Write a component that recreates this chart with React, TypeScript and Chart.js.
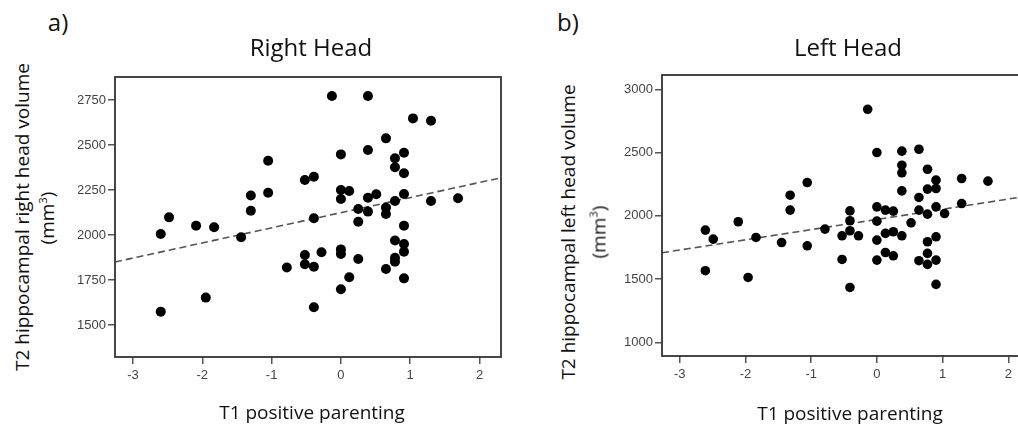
import React, { useEffect, useRef } from "react";
import { Chart, registerables } from "chart.js";

Chart.register(...registerables);

// ---------- Data ----------
const xTickValues = [-3, -2, -1, 0, 1, 2];
const rightHeadYTicks = [1500, 1750, 2000, 2250, 2500, 2750];
const leftHeadYTicks = [1000, 1500, 2000, 2500, 3000];

// Panel a) Right Head: T1 positive parenting vs T2 right head volume
const rightHeadX = [
  -0.13, 0.39, 1.04, 1.3, 0.65, 0.0, 0.39, 0.78, 0.91, 0.78, 0.91, -1.05, -0.52, -0.39,
  -1.05, -1.3, -1.3, 0.0, 0.12, 0.0, 0.39, 0.51, 0.91, 0.78, 1.3, 1.69, 0.25, 0.39, 0.65,
  0.65, -0.39, 0.25, 0.91, -2.48, -2.6, -2.09, -1.83, -1.44, 0.78, 0.91, 0.91, 0.0, 0.0,
  -0.28, -0.52, -0.52, -0.39, -0.78, 0.25, 0.78, 0.78, 0.65, 0.12, 0.91, 0.0, -0.39, -2.6,
  -1.95,
];
const rightHeadY = [
  2772, 2772, 2648, 2635, 2537, 2448, 2472, 2426, 2457, 2376, 2343, 2413, 2306, 2324,
  2235, 2219, 2135, 2250, 2244, 2200, 2207, 2226, 2228, 2189, 2189, 2204, 2144, 2130, 2152,
  2117, 2093, 2074, 2052, 2098, 2006, 2052, 2043, 1987, 1969, 1950, 1907, 1920, 1894,
  1904, 1889, 1837, 1824, 1819, 1867, 1874, 1852, 1811, 1765, 1759, 1698, 1598, 1574,
  1652,
];
const rightHeadFitX = [-3.26, 2.31];
const rightHeadFitY = [1850, 2318];

// Panel b) Left Head: T1 positive parenting vs T2 left head volume
const leftHeadX = [
  -0.14, 0.0, 0.38, 0.64, 0.38, 0.38, 0.77, -1.06, 1.29, 1.69, 0.9, 0.77, 0.9, 0.38,
  -1.32, -1.32, 0.64, 1.29, 0.0, 0.13, 0.25, 0.64, 0.9, 0.77, 1.03, -0.41, -0.41, 0.0,
  0.52, -2.11, -0.79, -0.41, -0.53, -0.28, 0.13, 0.25, 0.38, 0.9, -2.61, -2.49, -1.84,
  -1.45, -1.06, 0.0, 0.77, 0.13, 0.25, 0.77, -0.53, 0.0, 0.64, 0.77, 0.9, -2.61, -1.96,
  -0.41, 0.9,
];
const leftHeadY = [
  2842, 2500, 2511, 2526, 2400, 2340, 2368, 2263, 2295, 2274, 2282, 2211, 2216, 2197,
  2163, 2045, 2145, 2097, 2071, 2045, 2037, 2045, 2071, 2013, 2018, 2039, 1961, 1958,
  1945, 1953, 1895, 1882, 1842, 1842, 1861, 1874, 1842, 1834, 1887, 1816, 1829,
  1789, 1763, 1808, 1795, 1710, 1684, 1703, 1655, 1650, 1645, 1616, 1650, 1566, 1513,
  1434, 1458,
];
const leftHeadFitX = [-3.27, 2.33];
const leftHeadFitY = [1708, 2159];

// ---------- Helpers ----------
const TEXT_FONT = "'Open Sans', 'Noto Sans', sans-serif";
const TICK_FONT = "'Liberation Sans', Arial, sans-serif";

const boxPlugin = {
  id: "boxFrame",
  afterDraw(chart: any) {
    const { ctx, chartArea } = chart;
    const { left, top, right, bottom } = chartArea;
    ctx.save();
    ctx.strokeStyle = "#333";
    ctx.lineWidth = 1.8;
    ctx.strokeRect(left, top, right - left, bottom - top);
    ctx.restore();
  },
};

type PanelCfg = {
  xs: number[];
  ys: number[];
  fitX: number[];
  fitY: number[];
  xMin: number;
  xMax: number;
  yMin: number;
  yMax: number;
  yTicks: number[];
  canvasW: number;
  yAxisW: number;
  padTop: number;
  padRight: number;
  xAxisH: number;
  radius: number;
};

function Panel(props: { cfg: PanelCfg; left: number; width: number }) {
  const ref = useRef<HTMLCanvasElement | null>(null);
  const { cfg } = props;
  useEffect(() => {
    if (!ref.current) return;
    const pts = cfg.xs.map((x, i) => ({ x, y: cfg.ys[i] }));
    const fit = cfg.fitX.map((x, i) => ({ x, y: cfg.fitY[i] }));
    const tickFont = { family: TICK_FONT, size: 13 };
    const chart = new Chart(ref.current, {
      type: "scatter",
      data: {
        datasets: [
          {
            type: "line",
            data: fit,
            borderColor: "#555",
            borderWidth: 1.6,
            borderDash: [7, 4],
            pointRadius: 0,
            fill: false,
            order: 2,
          } as any,
          {
            data: pts,
            backgroundColor: "#000",
            borderColor: "#000",
            borderWidth: 0,
            pointRadius: cfg.radius,
            pointHoverRadius: cfg.radius,
            order: 1,
          },
        ],
      },
      options: {
        animation: false,
        responsive: false,
        events: [],
        layout: {
          autoPadding: false,
          padding: { top: cfg.padTop, right: cfg.padRight, left: 0, bottom: 0 },
        } as any,
        plugins: {
          legend: { display: false },
          tooltip: { enabled: false },
        },
        scales: {
          x: {
            type: "linear",
            min: cfg.xMin,
            max: cfg.xMax,
            afterBuildTicks: (s: any) => {
              s.ticks = xTickValues.map((v) => ({ value: v }));
            },
            afterFit: (s: any) => {
              s.height = cfg.xAxisH;
            },
            grid: {
              display: true,
              drawOnChartArea: false,
              drawTicks: true,
              tickLength: 7,
              color: "#555",
              lineWidth: 1.5,
            },
            border: { display: false },
            ticks: {
              color: "#444",
              font: tickFont,
              padding: 4,
              maxRotation: 0,
              autoSkip: false,
              callback: (v: any) => String(v),
            },
          },
          y: {
            type: "linear",
            min: cfg.yMin,
            max: cfg.yMax,
            afterBuildTicks: (s: any) => {
              s.ticks = cfg.yTicks.map((v) => ({ value: v }));
            },
            afterFit: (s: any) => {
              s.width = cfg.yAxisW;
            },
            grid: {
              display: true,
              drawOnChartArea: false,
              drawTicks: true,
              tickLength: 7,
              color: "#555",
              lineWidth: 1.5,
            },
            border: { display: false },
            ticks: {
              color: "#444",
              font: tickFont,
              padding: 2,
              autoSkip: false,
              callback: (v: any) => String(v),
            },
          },
        },
      },
      plugins: [boxPlugin],
    });
    return () => chart.destroy();
  }, []);
  return (
    <div
      style={{
        position: "absolute",
        left: props.left,
        top: 0,
        width: props.width,
        height: 428,
        overflow: "hidden",
      }}
    >
      <canvas ref={ref} width={cfg.canvasW} height={428} style={{ display: "block" }} />
    </div>
  );
}

function Txt(props: {
  x: number;
  y: number;
  size: number;
  rotate?: boolean;
  children: React.ReactNode;
}) {
  return (
    <div
      style={{
        position: "absolute",
        left: props.x,
        top: props.y,
        transform: `translate(-50%, -50%)${props.rotate ? " rotate(-90deg)" : ""}`,
        fontFamily: TEXT_FONT,
        fontSize: props.size,
        lineHeight: 1,
        color: "#111",
        whiteSpace: "nowrap",
      }}
    >
      {props.children}
    </div>
  );
}

const rightHeadCfg: PanelCfg = {
  xs: rightHeadX,
  ys: rightHeadY,
  fitX: rightHeadFitX,
  fitY: rightHeadFitY,
  xMin: -3.26,
  xMax: 2.31,
  yMin: 1322,
  yMax: 2878,
  yTicks: rightHeadYTicks,
  canvasW: 430,
  yAxisW: 37,
  padTop: 77,
  padRight: 7,
  xAxisH: 71,
  radius: 5,
};

const leftHeadCfg: PanelCfg = {
  xs: leftHeadX,
  ys: leftHeadY,
  fitX: leftHeadFitX,
  fitY: leftHeadFitY,
  xMin: -3.27,
  xMax: 2.33,
  yMin: 892,
  yMax: 3113,
  yTicks: leftHeadYTicks,
  canvasW: 440,
  yAxisW: 62,
  padTop: 75,
  padRight: 10,
  xAxisH: 72,
  radius: 4.8,
};

export default function App() {
  return (
    <div
      style={{
        position: "fixed",
        left: 0,
        top: 0,
        width: 1018,
        height: 428,
        overflow: "hidden",
        background: "#fff",
      }}
    >
      <Panel cfg={rightHeadCfg} left={78} width={430} />
      <Panel cfg={leftHeadCfg} left={600} width={418} />

      <Txt x={58} y={22} size={24}>a)</Txt>
      <Txt x={311} y={47} size={24}>Right Head</Txt>
      <Txt x={22} y={217} size={19} rotate>T2 hippocampal right head volume</Txt>
      <Txt x={47} y={218} size={19} rotate>
        (mm<sup style={{ fontSize: "0.6em", verticalAlign: "0.7em" }}>3</sup>)
      </Txt>
      <Txt x={312} y={412} size={19}>T1 positive parenting</Txt>

      <Txt x={568} y={22} size={24}>b)</Txt>
      <Txt x={848} y={47} size={24}>Left Head</Txt>
      <Txt x={568} y={232} size={19} rotate>T2 hippocampal left head volume</Txt>
      <Txt x={598} y={232} size={19} rotate>
        (mm<sup style={{ fontSize: "0.6em", verticalAlign: "0.7em" }}>3</sup>)
      </Txt>
      <Txt x={850} y={413} size={19}>T1 positive parenting</Txt>
    </div>
  );
}
